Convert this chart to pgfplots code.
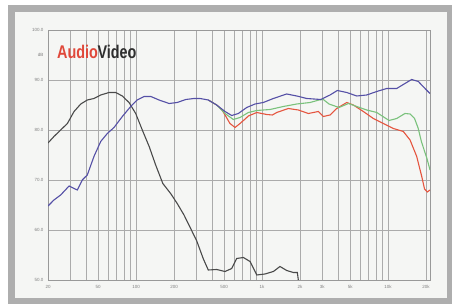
\documentclass[border=0pt]{standalone}
\usepackage{pgfplots}
\pgfplotsset{compat=1.18}
\usepackage{fontspec}
\setmainfont{Liberation Sans}
\definecolor{framegray}{HTML}{AEAEAE}
\definecolor{panelbg}{HTML}{F5F6F4}
\definecolor{gridgray}{HTML}{ABABAB}
\definecolor{cblue}{HTML}{5550A6}
\definecolor{cgreen}{HTML}{7AC27C}
\definecolor{cred}{HTML}{E5553F}
\definecolor{cblack}{HTML}{4A4A4A}
\definecolor{logored}{HTML}{E0483A}
\definecolor{logodark}{HTML}{2E2E2E}
\begin{document}
\begin{tikzpicture}
\fill[white] (0pt,0pt) rectangle (458pt,304pt);
\fill[framegray] (8pt,0pt) rectangle (452pt,299pt);
\fill[panelbg] (15pt,6pt) rectangle (447pt,292pt);
\begin{axis}[
  at={(48pt,24pt)}, anchor=south west,
  width=382pt, height=250pt, scale only axis,
  xmode=log, xmin=20, xmax=21500, ymin=50, ymax=100,
  log basis x=10,
  xtick={20,50,100,200,500,1000,2000,3000,5000,10000,20000},
  xticklabels={20,50,100,200,500,1k,2k,3k,5k,10k,20k},
  minor xtick={30,40,60,70,80,90,300,400,600,700,800,900,4000,6000,7000,8000,9000},
  ytick={50,60,70,80,90,100},
  yticklabels={50.0,60.0,70.0,80.0,90.0,100.0},
  xmajorgrids, xminorgrids, ymajorgrids,
  grid style={gridgray, line width=0.5pt},
  minor grid style={gridgray, line width=0.5pt},
  major tick length=0pt, minor tick length=0pt,
  axis line style={draw=gray!80, line width=0.6pt},
  tick label style={font=\fontsize{4.5}{5}\selectfont, text=gray},
  xticklabel style={yshift=-2pt},
  yticklabel style={xshift=-1pt},
  /pgf/number format/assume math mode=true,
  clip=true,
]
\addplot[cblack, line width=1.1pt] coordinates {
(20,77.4) (22.3,78.7) (25.2,80.0) (28.5,81.3) (32.2,83.7) (36.4,85.2) (41.0,86.0)
(46.3,86.3) (52.4,87.0) (61.0,87.5) (68.9,87.5) (77.8,86.8) (87.9,85.5) (99.3,83.3)
(112,80.0) (127,76.7) (143,73.0) (163,69.3) (188,67.3) (212,65.3) (240,63.0)
(271,60.3) (303,57.8) (342,54.2) (374,52.0) (436,52.1) (508,51.7) (574,52.3)
(629,54.3) (710,54.5) (802,53.7) (907,51.0) (1054,51.2) (1228,51.7) (1387,52.7)
(1567,51.9) (1770,51.5) (1904,51.5) (1939,50.0)
};
\addplot[cred, line width=1.1pt] coordinates {
(374,86.0) (436,85.0) (481,84.0) (508,83.0) (556,81.3) (610,80.5) (668,81.3)
(741,82.3) (778,82.8) (907,83.5) (1088,83.1) (1206,83.0) (1306,83.5) (1614,84.3)
(1939,84.0) (2328,83.3) (2794,83.7) (3062,82.7) (3460,83.0) (3908,84.3) (4698,85.5)
(5297,85.0) (6358,83.7) (7634,82.3) (9162,81.3) (11000,80.3) (13210,79.7)
(14930,78.0) (16870,74.7) (18490,70.7) (19460,68.2) (20470,67.6) (21500,68.0)
};
\addplot[cgreen, line width=1.1pt] coordinates {
(374,86.0) (436,85.0) (508,83.3) (591,82.1) (668,82.5) (778,83.5) (907,83.9)
(1156,84.1) (1474,84.7) (1884,85.2) (2402,85.5) (2831,86.0) (3062,86.1) (3396,85.2)
(4078,84.5) (4853,85.3) (5636,84.7) (6763,84.0) (8128,83.5) (10170,81.9)
(11700,82.3) (13600,83.3) (14930,83.2) (16210,82.3) (17300,80.4) (18410,77.6)
(20280,74.4) (21500,72.0)
};
\addplot[cblue, line width=1.1pt] coordinates {
(20,64.8) (22.3,66.0) (25.2,67.0) (29.4,68.8) (32.2,68.3) (34.2,68.0) (37.4,70.0)
(41.0,71.0) (46.3,74.7) (52.4,77.7) (59.1,79.3) (66.8,80.5) (77.8,82.7) (90.6,84.7)
(102,86.0) (116,86.7) (131,86.7) (152,86.0) (183,85.3) (212,85.5) (248,86.1)
(288,86.3) (322,86.3) (374,86.0) (436,85.0) (508,83.7) (574,82.9) (648,83.3)
(755,84.5) (879,85.2) (1023,85.5) (1228,86.3) (1567,87.2) (1884,86.8) (2260,86.3)
(2918,86.1) (3460,87.0) (3954,87.9) (4698,87.5) (5636,86.8) (6763,87.0)
(8128,87.7) (9750,88.3) (11700,88.3) (13600,89.3) (15380,90.1) (17370,89.7)
(19630,88.3) (21500,87.3)
};
\end{axis}
\node[anchor=east, text=gray, font=\fontsize{4.5}{5}\selectfont] at (47pt,249pt) {dB};
\node[anchor=base west, inner sep=0pt] at (57pt,245pt)
  {\scalebox{0.8}[1.02]{\fontsize{18}{18}\selectfont\bfseries\color{logored}Audio\kern-0.5pt\color{logodark}Video}};
\end{tikzpicture}
\end{document}
